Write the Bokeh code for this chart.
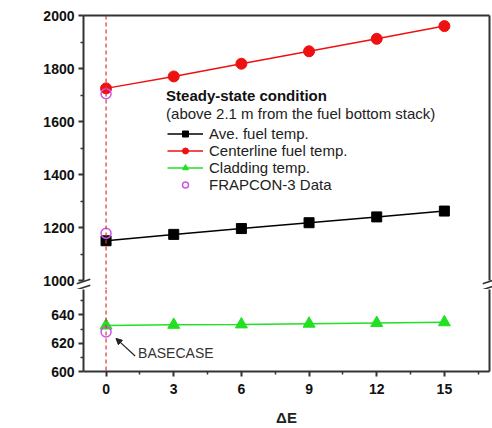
import math
from bokeh.plotting import figure
from bokeh.models import (Range1d, FixedTicker, LinearAxis, Span, Label, Arrow,
                          NormalHead, Legend, LegendItem)
from bokeh.layouts import column
from bokeh.embed import file_html
from bokeh.resources import INLINE

# ---- data ----
dE = [0, 3, 6, 9, 12, 15]
ave_fuel = [1150, 1174, 1196, 1218, 1240, 1262]
centerline = [1725, 1770, 1818, 1865, 1912, 1960]
cladding = [632.5, 633.0, 633.3, 633.8, 634.3, 634.8]
frap_x = [0, 0, 0]
frap_y = [1705, 1178, 628]

x_ticks = [0, 3, 6, 9, 12, 15]
x_minor = [1.5, 4.5, 7.5, 10.5, 13.5, 16.5]
upper_ticks = [1000, 1200, 1400, 1600, 1800, 2000]
upper_minor = [1100, 1300, 1500, 1700, 1900]
lower_ticks = [600, 620, 640]
lower_minor = [610, 630, 650]
names = ["Ave. fuel temp.", "Centerline fuel temp.", "Cladding temp.", "FRAPCON-3 Data"]

FONT = "Liberation Sans"
AX = "#333333"
RED = "#ee1111"
GREEN = "#22e022"
VIOLET = "#cc55e6"
DASH_RED = "#e03535"

X0, X1 = -1, 17
xr = Range1d(X0, X1)


def make_fig(height, yr, top, bottom, with_x_axis):
    p = figure(width=492, height=height, x_range=xr, y_range=yr,
               output_backend="svg", toolbar_location=None,
               x_axis_location="below" if with_x_axis else None,
               min_border_left=83, min_border_right=3,
               min_border_top=top, min_border_bottom=bottom)
    p.xgrid.visible = False
    p.ygrid.visible = False
    p.outline_line_color = None
    p.background_fill_color = "white"
    p.border_fill_color = "white"
    return p


def style_axis(ax, ticks, minor):
    ax.ticker = FixedTicker(ticks=ticks, minor_ticks=minor)
    ax.axis_line_color = AX
    ax.axis_line_width = 2
    ax.major_tick_line_color = AX
    ax.major_tick_line_width = 2
    ax.major_tick_out = 5
    ax.major_tick_in = 0
    ax.minor_tick_line_color = AX
    ax.minor_tick_line_width = 1.5
    ax.minor_tick_out = 3
    ax.minor_tick_in = 0
    ax.major_label_text_font = FONT
    ax.major_label_text_font_style = "bold"
    ax.major_label_text_font_size = "14px"
    ax.major_label_text_color = "#111111"
    ax.major_label_standoff = 4


def frame_axis(p, side):
    ax = LinearAxis(ticker=FixedTicker(ticks=[]), axis_line_color=AX,
                    axis_line_width=2, major_tick_line_color=None,
                    minor_tick_line_color=None, major_label_standoff=0,
                    axis_label_standoff=0, major_label_text_font_size="0px",
                    major_tick_out=0, minor_tick_out=0)
    p.add_layout(ax, side)


def draw_series(p):
    rs = {}
    l1 = p.line(dE, ave_fuel, line_color="black", line_width=1.5)
    m1 = p.scatter(dE, ave_fuel, marker="square", size=10, fill_color="black", line_color="black")
    l2 = p.line(dE, centerline, line_color=RED, line_width=1.5)
    m2 = p.scatter(dE, centerline, marker="circle", size=11, fill_color=RED, line_color=RED)
    l3 = p.line(dE, cladding, line_color=GREEN, line_width=1.5)
    m3 = p.scatter(dE, cladding, marker="triangle", size=12, fill_color=GREEN, line_color=GREEN)
    m4 = p.scatter(frap_x, frap_y, marker="circle", size=10, fill_color=None,
                   line_color=VIOLET, line_width=1.5)
    rs[names[0]] = [l1, m1]
    rs[names[1]] = [l2, m2]
    rs[names[2]] = [l3, m3]
    rs[names[3]] = [m4]
    return rs


# ---- upper segment (1000 - 2000) ----
p_up = make_fig(289, Range1d(1000, 2000), 15, 9, False)
style_axis(p_up.yaxis[0], upper_ticks, upper_minor)
frame_axis(p_up, "above")
frame_axis(p_up, "right")
p_up.add_layout(Span(location=0, dimension="height", line_color=DASH_RED,
                     line_dash="4 3", line_width=1.2))
rs_up = draw_series(p_up)

legend = Legend(items=[LegendItem(label=n, renderers=rs_up[n]) for n in names],
                location=(84, 87), orientation="vertical",
                label_text_font=FONT, label_text_font_size="15px",
                label_text_color="#222222", glyph_width=36, glyph_height=15,
                label_height=15, spacing=0, padding=0, margin=0,
                label_standoff=6, border_line_color=None,
                background_fill_alpha=0)
p_up.add_layout(legend)

p_up.add_layout(Label(x=2.66, y=1698, text="Steady-state condition",
                      text_font=FONT, text_font_style="bold", text_font_size="15px",
                      text_color="#111111", text_baseline="middle"))
p_up.add_layout(Label(x=2.66, y=1630, text="(above 2.1 m from the fuel bottom stack)",
                      text_font=FONT, text_font_size="15px",
                      text_color="#222222", text_baseline="middle"))
p_up.add_layout(Label(x=-4.1, y=1358, text="Temperature, K", angle=math.pi / 2,
                      text_font=FONT, text_font_size="15px", text_color="#222222",
                      text_align="center", text_baseline="middle"))

# axis-break marks: two short slanted strokes across each side of the gap
brk_y = [996.2, 973.6]
for xc in (X0, X1):
    p_up.segment(x0=[xc - 0.3] * 2, y0=[y - 8.1 for y in brk_y],
                 x1=[xc + 0.3] * 2, y1=[y + 8.1 for y in brk_y],
                 line_color=AX, line_width=1.6, level="overlay")
# dashed baseline continued through the break gap
p_up.segment(x0=[0], y0=[1000], x1=[0], y1=[966], line_color=DASH_RED,
             line_dash="4 3", line_width=1.2, level="overlay")

# ---- lower segment (600 - 658) ----
p_low = make_fig(139, Range1d(600, 658), 0, 55, True)
style_axis(p_low.yaxis[0], lower_ticks, lower_minor)
style_axis(p_low.xaxis[0], x_ticks, x_minor)
p_low.xaxis[0].major_label_standoff = 7
p_low.xaxis[0].axis_label = "\u0394E"
p_low.xaxis[0].axis_label_text_font = FONT
p_low.xaxis[0].axis_label_text_font_style = "bold"
p_low.xaxis[0].axis_label_text_font_size = "15px"
p_low.xaxis[0].axis_label_text_color = "#222222"
p_low.xaxis[0].axis_label_standoff = 12
frame_axis(p_low, "right")
p_low.add_layout(Span(location=0, dimension="height", line_color=DASH_RED,
                      line_dash="4 3", line_width=1.2))
draw_series(p_low)

p_low.add_layout(Arrow(x_start=1.29, y_start=611, x_end=0.44, y_end=623.4,
                       end=NormalHead(size=6, fill_color="#222222", line_color="#222222"),
                       line_color="#222222", line_width=1.2))
p_low.add_layout(Label(x=1.42, y=613.1, text="BASECASE", text_font=FONT,
                       text_font_size="14px", text_color="#333333",
                       text_baseline="middle"))

layout = column(p_up, p_low, spacing=0)
open("out.html", "w").write(file_html(layout, INLINE))
